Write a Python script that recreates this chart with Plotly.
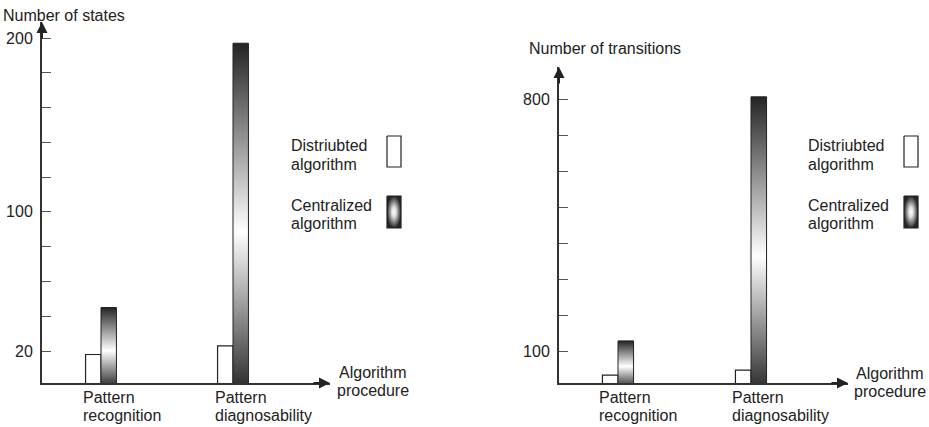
import plotly.graph_objects as go

# ---- data ----
categories = ["Pattern<br>recognition", "Pattern<br>diagnosability"]
states_distributed = [18, 23]
states_centralized = [45, 197]
transitions_distributed = [33, 47]
transitions_centralized = [128, 806]
states_ticks = [20, 40, 60, 80, 100, 120, 140, 160, 180, 200]
states_labels = ["20", "", "", "", "100", "", "", "", "", "200"]
trans_ticks = [100, 200, 300, 400, 500, 600, 700, 800]
trans_labels = ["100", "", "", "", "", "", "", "800"]
series_names = ["Distriubted<br>algorithm", "Centralized<br>algorithm"]
x_title = "Algorithm<br>procedure"

W, H = 929, 427
FONT = "Liberation Sans, Arial, sans-serif"
FS = 16
TXT = "#222222"
EDGE = "#222222"
BW = 0.117  # bar width in category units
LINE_GAP = 18  # px between text lines

def px(x):
    return x / W

def py(y):
    return 1 - y / H

def yrange(v_a, p_a, v_b, p_b, p_bottom, p_top):
    """axis range so that value v_a sits at pixel p_a and v_b at p_b"""
    k = (p_a - p_b) / (v_b - v_a)
    return [v_a - (p_bottom - p_a) / k, v_a + (p_a - p_top) / k]

fig = go.Figure()

radial_scale = [[0, "#ffffff"], [0.3, "#e0e0e0"], [1, "#262626"]]
vertical_scale = [[0, "#303030"], [0.45, "#ffffff"], [1, "#242424"]]

def add_panel(dist, cent, xa, ya):
    xs = list(range(len(dist)))
    fig.add_trace(go.Bar(x=xs, y=dist, width=BW, offset=-BW,
                         marker=dict(color="white", line=dict(color=EDGE, width=1.2)),
                         xaxis=xa, yaxis=ya, hoverinfo="skip"))
    for x, v in zip(xs, cent):
        fig.add_trace(go.Scatter(
            x=[x, x, x + BW, x + BW, x], y=[0, v, v, 0, 0],
            mode="lines", fill="toself",
            fillgradient=dict(type="vertical", colorscale=vertical_scale),
            line=dict(color=EDGE, width=1),
            xaxis=xa, yaxis=ya, hoverinfo="skip"))

add_panel(states_distributed, states_centralized, "x", "y")
add_panel(transitions_distributed, transitions_centralized, "x2", "y2")

# legend swatches on a full-figure pixel axis
def swatch(x0, x1, y0, y1, kind):
    common = dict(x=[x0, x0, x1, x1, x0], y=[y0, y1, y1, y0, y0],
                  mode="lines", fill="toself", line=dict(color=EDGE, width=1.2),
                  xaxis="x3", yaxis="y3", hoverinfo="skip")
    if kind == "white":
        fig.add_trace(go.Scatter(fillcolor="white", **common))
    else:
        fig.add_trace(go.Scatter(fillgradient=dict(type="radial", colorscale=radial_scale),
                                 **common))

swatch(387, 401, 136, 167, "white")
swatch(387, 401, 196, 228, "grad")
swatch(904, 918, 136, 167, "white")
swatch(904, 918, 196, 228, "grad")

axis_common = dict(showgrid=False, zeroline=False, showline=True, linewidth=2,
                   linecolor="#333333")

L_x0, L_x1, L_c0, L_c1 = 42, 330, 101, 233
R_x0, R_x1, R_c0, R_c1 = 559, 848, 618, 751
top_L, top_R, bottom = 22, 67, 383

sL = L_c1 - L_c0
sR = R_c1 - R_c0

fig.update_layout(
    width=W, height=H, margin=dict(l=0, r=0, t=0, b=0),
    paper_bgcolor="white", plot_bgcolor="rgba(0,0,0,0)", showlegend=False,
    font=dict(family=FONT, size=FS, color=TXT),
    xaxis=dict(domain=[px(L_x0), px(L_x1)],
               range=[(L_x0 - L_c0) / sL, (L_x1 - L_c0) / sL],
               showticklabels=False, ticks="", anchor="y", **axis_common),
    yaxis=dict(domain=[py(bottom), py(top_L)],
               range=yrange(states_ticks[0], 351, states_ticks[-1], 38, bottom, top_L),
               tickvals=states_ticks, ticktext=states_labels,
               ticks="inside", ticklen=9, tickwidth=1.2, tickcolor="#555555",
               ticklabelstandoff=4, anchor="x", **axis_common),
    xaxis2=dict(domain=[px(R_x0), px(R_x1)],
                range=[(R_x0 - R_c0) / sR, (R_x1 - R_c0) / sR],
                showticklabels=False, ticks="", anchor="y2", **axis_common),
    yaxis2=dict(domain=[py(bottom), py(top_R)],
                range=yrange(trans_ticks[0], 351, trans_ticks[-1], 99, bottom, top_R),
                tickvals=trans_ticks, ticktext=trans_labels,
                ticks="inside", ticklen=9, tickwidth=1.2, tickcolor="#555555",
                ticklabelstandoff=4, anchor="x2", **axis_common),
    xaxis3=dict(domain=[0, 1], range=[0, W], visible=False, anchor="y3", fixedrange=True),
    yaxis3=dict(domain=[0, 1], range=[H, 0], visible=False, anchor="x3", fixedrange=True),
)

ann = []

def lines(text, xref, x, y_first, xanchor="left", xshift=0):
    for k, t in enumerate(text.split("<br>")):
        ann.append(dict(xref=xref, yref="paper", x=x, y=py(y_first + k * LINE_GAP),
                        text=t, showarrow=False, xanchor=xanchor, yanchor="middle",
                        xshift=xshift))

for xt, yt, dx, dy in [(L_x0, top_L, 0, 18), (R_x0, top_R, 0, 18),
                       (L_x1, bottom, -18, 0), (R_x1, bottom, -18, 0)]:
    ann.append(dict(xref="paper", yref="paper", x=px(xt), y=py(yt), ax=dx, ay=dy,
                    text="", showarrow=True, arrowhead=2, arrowsize=1.1,
                    arrowwidth=2, arrowcolor="#222222"))
lines("Number of states", "paper", px(1), 15)
lines("Number of transitions", "paper", px(527), 48)
for xc, yy in ((L_x1 + 8 + 35, 372), (R_x1 + 7 + 35, 373)):
    lines(x_title, "paper", px(xc), yy, xanchor="center")
for xa in ("x", "x2"):
    for i, c in enumerate(categories):
        lines(c, xa, i - BW, 397, xshift=-5)
for xx in (289, 806):
    lines(series_names[0], "paper", px(xx), 146)
    lines(series_names[1], "paper", px(xx), 205)
fig.update_layout(annotations=ann)

fig.write_html("out.html", config={"displayModeBar": False},
               post_script="document.body.style.margin='0';document.body.style.padding='0';")
